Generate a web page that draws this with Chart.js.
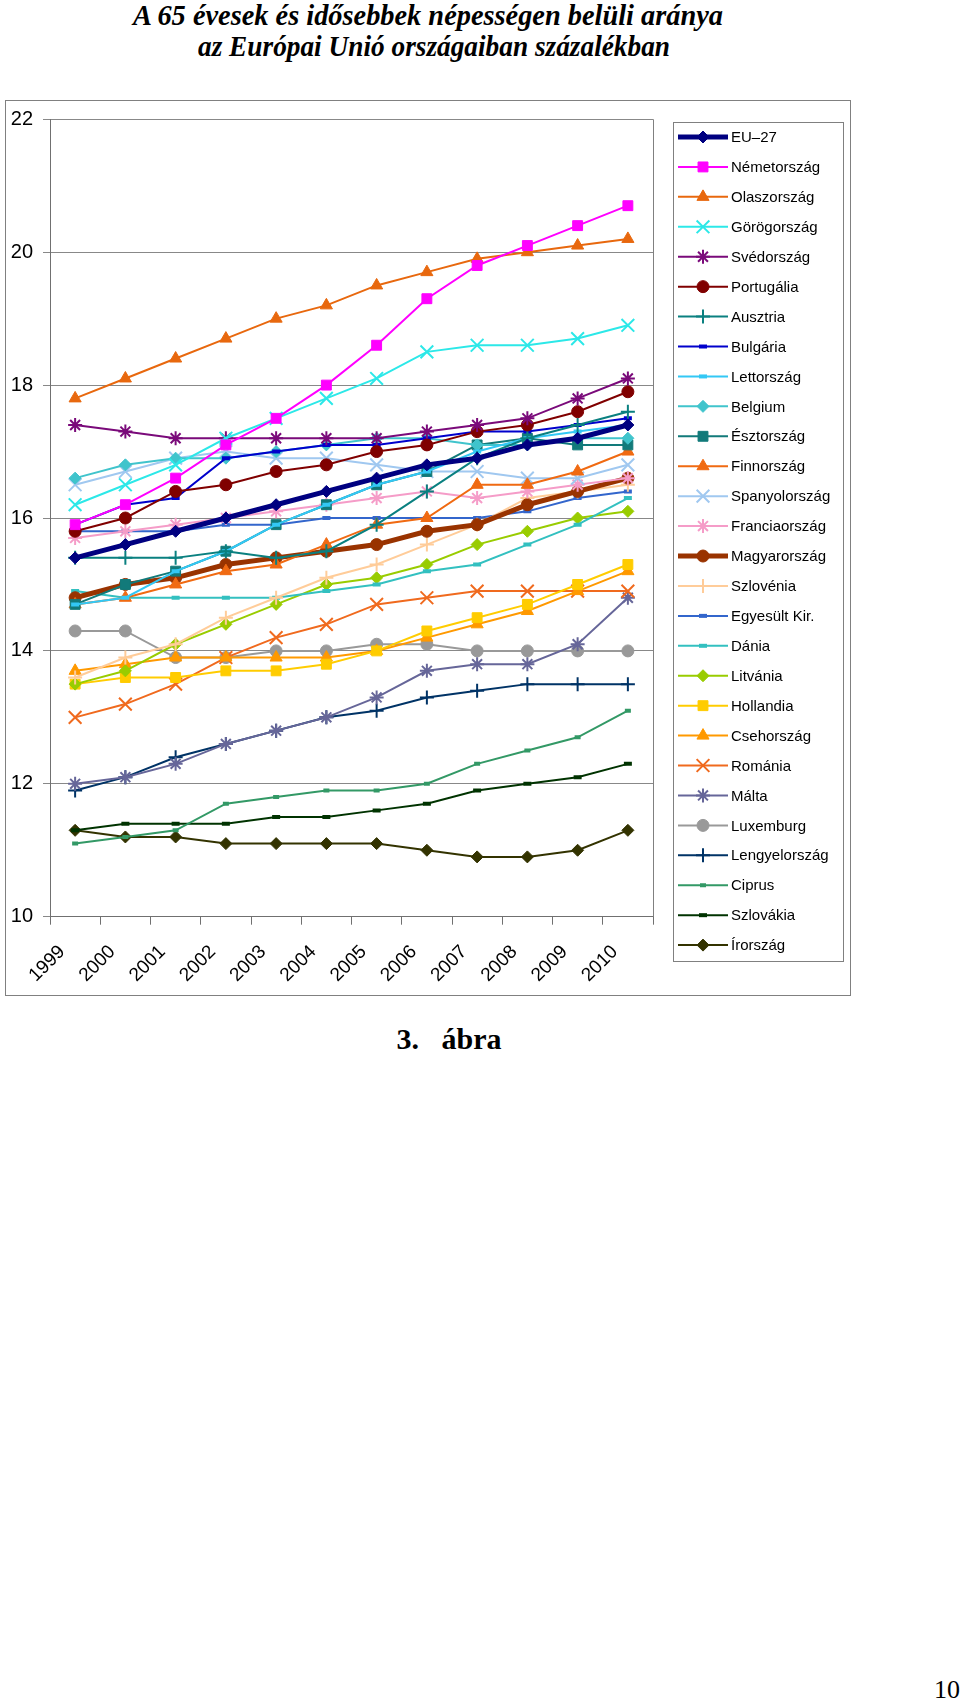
<!DOCTYPE html>
<html><head><meta charset="utf-8">
<script src="https://cdn.jsdelivr.net/npm/chart.js@4.4.1/dist/chart.umd.min.js"></script>
<style>
html,body{margin:0;padding:0;background:#fff;width:960px;height:1704px;overflow:hidden;position:relative}
.t{position:absolute;font-family:"Liberation Serif","Times New Roman",serif;font-weight:bold;font-style:italic;font-size:30px;white-space:nowrap;color:#000;transform-origin:0 0;line-height:1}
#wrap{position:absolute;left:0;top:0;width:960px;height:1000px}
#box{position:absolute;left:5px;top:100px;width:846px;height:896px;border:1px solid #808080;box-sizing:border-box}
#fig{position:absolute;left:0;width:898px;top:1024px;text-align:center;font-family:"Liberation Serif","Times New Roman",serif;font-weight:bold;font-size:30px;line-height:1;white-space:pre}
#pg{position:absolute;left:934px;top:1677px;font-family:"Liberation Serif","Times New Roman",serif;font-size:26px;line-height:1}
</style></head><body>
<div id="t1" class="t">A 65 évesek és idősebbek népességen belüli aránya</div>
<div id="t2" class="t">az Európai Unió országaiban százalékban</div>
<div id="box"></div>
<div id="wrap"><canvas id="c" width="960" height="1000"></canvas></div>
<div id="fig">3.   ábra</div>
<div id="pg">10</div>
<script>
// ---- data ----
const years = ['1999','2000','2001','2002','2003','2004','2005','2006','2007','2008','2009','2010'];
const seriesNames = ['EU–27','Németország','Olaszország','Görögország','Svédország','Portugália','Ausztria','Bulgária','Lettország','Belgium','Észtország','Finnország','Spanyolország','Franciaország','Magyarország','Szlovénia','Egyesült Kir.','Dánia','Litvánia','Hollandia','Csehország','Románia','Málta','Luxemburg','Lengyelország','Ciprus','Szlovákia','Írország'];
const yTicks = [10, 12, 14, 16, 18, 20, 22];

const eu27     = [15.4, 15.6, 15.8, 16.0, 16.2, 16.4, 16.6, 16.8, 16.9, 17.1, 17.2, 17.4];
const nemet    = [15.9, 16.2, 16.6, 17.1, 17.5, 18.0, 18.6, 19.3, 19.8, 20.1, 20.4, 20.7];
const olasz    = [17.8, 18.1, 18.4, 18.7, 19.0, 19.2, 19.5, 19.7, 19.9, 20.0, 20.1, 20.2];
const gorog    = [16.2, 16.5, 16.8, 17.2, 17.5, 17.8, 18.1, 18.5, 18.6, 18.6, 18.7, 18.9];
const sved     = [17.4, 17.3, 17.2, 17.2, 17.2, 17.2, 17.2, 17.3, 17.4, 17.5, 17.8, 18.1];
const portugal = [15.8, 16.0, 16.4, 16.5, 16.7, 16.8, 17.0, 17.1, 17.3, 17.4, 17.6, 17.9];
const ausztria = [15.4, 15.4, 15.4, 15.5, 15.4, 15.5, 15.9, 16.4, 16.9, 17.2, 17.4, 17.6];
const bulgaria = [15.9, 16.2, 16.3, 16.9, 17.0, 17.1, 17.1, 17.2, 17.3, 17.3, 17.4, 17.5];
const lett     = [14.7, 14.8, 15.2, 15.5, 15.9, 16.2, 16.5, 16.7, 17.0, 17.2, 17.3, 17.4];
const belgium  = [16.6, 16.8, 16.9, 16.9, 17.0, 17.1, 17.2, 17.2, 17.1, 17.1, 17.2, 17.2];
const eszt     = [14.7, 15.0, 15.2, 15.5, 15.9, 16.2, 16.5, 16.7, 17.1, 17.2, 17.1, 17.1];
const finn     = [14.7, 14.8, 15.0, 15.2, 15.3, 15.6, 15.9, 16.0, 16.5, 16.5, 16.7, 17.0];
const spany    = [16.5, 16.7, 16.9, 17.0, 16.9, 16.9, 16.8, 16.7, 16.7, 16.6, 16.6, 16.8];
const francia  = [15.7, 15.8, 15.9, 16.0, 16.1, 16.2, 16.3, 16.4, 16.3, 16.4, 16.5, 16.6];
const magyar   = [14.8, 15.0, 15.1, 15.3, 15.4, 15.5, 15.6, 15.8, 15.9, 16.2, 16.4, 16.6];
const szloven  = [13.6, 13.9, 14.1, 14.5, 14.8, 15.1, 15.3, 15.6, 15.9, 16.3, 16.4, 16.5];
const uk       = [15.8, 15.8, 15.8, 15.9, 15.9, 16.0, 16.0, 16.0, 16.0, 16.1, 16.3, 16.4];
const dania    = [14.9, 14.8, 14.8, 14.8, 14.8, 14.9, 15.0, 15.2, 15.3, 15.6, 15.9, 16.3];
const litvania = [13.5, 13.7, 14.1, 14.4, 14.7, 15.0, 15.1, 15.3, 15.6, 15.8, 16.0, 16.1];
const holland  = [13.5, 13.6, 13.6, 13.7, 13.7, 13.8, 14.0, 14.3, 14.5, 14.7, 15.0, 15.3];
const cseh     = [13.7, 13.8, 13.9, 13.9, 13.9, 13.9, 14.0, 14.2, 14.4, 14.6, 14.9, 15.2];
const roman    = [13.0, 13.2, 13.5, 13.9, 14.2, 14.4, 14.7, 14.8, 14.9, 14.9, 14.9, 14.9];
const malta    = [12.0, 12.1, 12.3, 12.6, 12.8, 13.0, 13.3, 13.7, 13.8, 13.8, 14.1, 14.8];
const luxem    = [14.3, 14.3, 13.9, 13.9, 14.0, 14.0, 14.1, 14.1, 14.0, 14.0, 14.0, 14.0];
const lengyel  = [11.9, 12.1, 12.4, 12.6, 12.8, 13.0, 13.1, 13.3, 13.4, 13.5, 13.5, 13.5];
const ciprus   = [11.1, 11.2, 11.3, 11.7, 11.8, 11.9, 11.9, 12.0, 12.3, 12.5, 12.7, 13.1];
const szlovak  = [11.3, 11.4, 11.4, 11.4, 11.5, 11.5, 11.6, 11.7, 11.9, 12.0, 12.1, 12.3];
const irorszag = [11.3, 11.2, 11.2, 11.1, 11.1, 11.1, 11.1, 11.0, 10.9, 10.9, 11.0, 11.3];

const seriesValues = [eu27, nemet, olasz, gorog, sved, portugal, ausztria, bulgaria, lett, belgium, eszt, finn, spany, francia, magyar, szloven, uk, dania, litvania, holland, cseh, roman, malta, luxem, lengyel, ciprus, szlovak, irorszag];

// ---- styles (color, marker, radius, line width) ----
const styles = [
  ['#000080','rectRot',6,5],
  ['#FF00FF','rect',7,2],
  ['#E8680E','triangle',7,2],
  ['#2CE8E8','crossRot',9,2],
  ['#7A0A7A','star',7,2],
  ['#800000','circle',6,2],
  ['#0A8080','cross',7,2],
  ['#0000CC','line',4,2],
  ['#33C8F5','line',4,2],
  ['#40C4CC','rectRot',6,2],
  ['#127A7A','rect',7,2],
  ['#F06A12','triangle',7,2],
  ['#A0C8F0','crossRot',9,2],
  ['#F59CC8','star',7,2],
  ['#993300','circle',6,5],
  ['#FFCC99','cross',7,2],
  ['#3366CC','line',4,2],
  ['#33C0C0','line',4,2],
  ['#99CC00','rectRot',6,2],
  ['#FFCC00','rect',7,2],
  ['#FF9900','triangle',7,2],
  ['#F06A1E','crossRot',9,2],
  ['#666699','star',7,2],
  ['#999999','circle',6,2],
  ['#003366','cross',7,2],
  ['#339966','line',3,2],
  ['#003300','line',4,2],
  ['#333300','rectRot',6,2]
];

const datasets = seriesNames.map((name, i) => {
  const [col, ps, r, lw] = styles[i];
  const filled = (ps === 'rect' || ps === 'rectRot' || ps === 'triangle' || ps === 'circle');
  return {
    label: name,
    data: seriesValues[i],
    borderColor: col,
    backgroundColor: col,
    borderWidth: lw,
    pointStyle: ps,
    pointRadius: r,
    pointBackgroundColor: col,
    pointBorderColor: col,
    pointBorderWidth: filled ? 1 : (ps === 'line' ? 4 : 2),
    tension: 0,
    fill: false
  };
});

const frame = {
  id: 'frame',
  beforeDatasetsDraw(chart) {
    const a = chart.chartArea, ctx = chart.ctx;
    ctx.save();
    ctx.strokeStyle = '#808080'; ctx.lineWidth = 1;
    ctx.beginPath(); ctx.moveTo(Math.round(a.right) + 0.5, a.top); ctx.lineTo(Math.round(a.right) + 0.5, a.bottom); ctx.stroke();
    ctx.restore();
  }
};

const legendPlugin = {
  id: 'customLegend',
  afterDraw(chart) {
    const ctx = chart.ctx;
    ctx.save();
    ctx.strokeStyle = '#808080'; ctx.lineWidth = 1;
    ctx.strokeRect(673.5, 122.5, 170, 839);
    chart.data.datasets.forEach((ds, i) => {
      const y = 137 + i * 29.93;
      ctx.strokeStyle = ds.borderColor; ctx.lineWidth = ds.borderWidth;
      ctx.beginPath(); ctx.moveTo(678, y); ctx.lineTo(728, y); ctx.stroke();
      ctx.fillStyle = ds.pointBackgroundColor; ctx.strokeStyle = ds.pointBorderColor; ctx.lineWidth = ds.pointBorderWidth;
      Chart.helpers.drawPoint(ctx, {pointStyle: ds.pointStyle, radius: ds.pointRadius, rotation: 0, borderWidth: ds.pointBorderWidth}, 703, y);
      ctx.fillStyle = '#000'; ctx.font = '15px "Liberation Sans", Arial, sans-serif';
      ctx.textBaseline = 'middle'; ctx.textAlign = 'left';
      ctx.fillText(ds.label, 731, y + 1);
    });
    ctx.restore();
  }
};

new Chart(document.getElementById('c'), {
  type: 'line',
  data: { labels: years, datasets },
  options: {
    responsive: false, animation: false, devicePixelRatio: 1,
    layout: { padding: { left: 5, right: 307, top: 119.3, bottom: 3.3 } },
    plugins: { legend: { display: false }, tooltip: { enabled: false }, title: { display: false } },
    scales: {
      x: {
        type: 'category', offset: true,
        grid: { offset: true, drawOnChartArea: false, drawTicks: true, tickLength: 8, color: '#707070' },
        border: { display: true, color: '#707070', width: 1 },
        ticks: { color: '#000', font: { family: '"Liberation Sans", Arial, sans-serif', size: 19 }, minRotation: 45, maxRotation: 45, padding: 16, labelOffset: -13, autoSkip: false },
        afterFit(axis) { axis.height = 80; }
      },
      y: {
        min: 10, max: 22,
        afterBuildTicks(axis) { axis.ticks = yTicks.map(v => ({ value: v })); },
        grid: { color: '#888888', lineWidth: 1, tickLength: 7, drawTicks: true },
        border: { display: true, color: '#707070', width: 1 },
        ticks: { color: '#000', font: { family: '"Liberation Sans", Arial, sans-serif', size: 20 }, padding: 10 },
        afterFit(axis) { axis.width = 45; }
      }
    }
  },
  plugins: [frame, legendPlugin]
});

// title fit
function fitTitle(id, targetW, center, top) {
  const el = document.getElementById(id);
  const w = el.getBoundingClientRect().width;
  const s = targetW / w;
  el.style.transform = 'scaleX(' + s + ')';
  el.style.left = (center - targetW / 2) + 'px';
  el.style.top = top + 'px';
}
fitTitle('t1', 590, 428, 0);
fitTitle('t2', 472, 434, 31);
</script>
</body></html>
